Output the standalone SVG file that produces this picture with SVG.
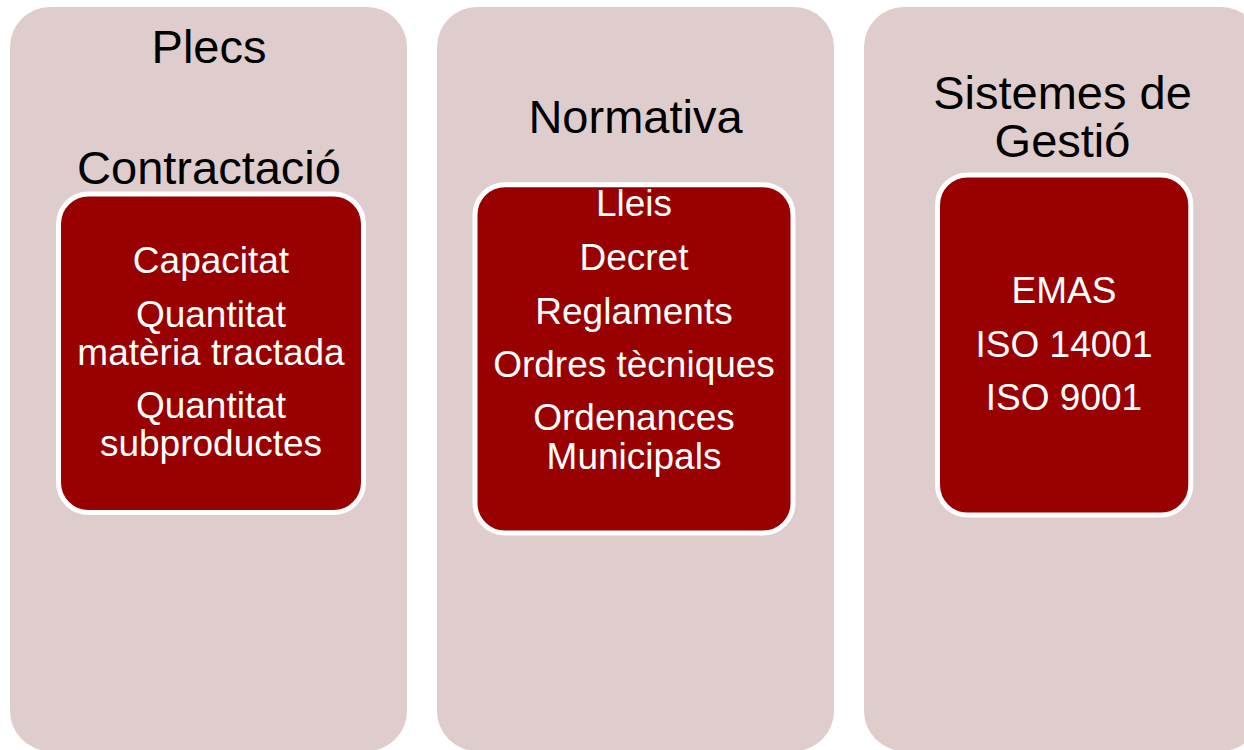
<svg xmlns="http://www.w3.org/2000/svg" width="1244" height="750" viewBox="0 0 1244 750">
<style>
.outer{fill:#dfcccc;}
.inner{fill:#990000;stroke:#ffffff;stroke-width:5;}
.title{font-family:"Liberation Sans",Arial,sans-serif;font-size:47px;fill:#000000;text-anchor:middle;}
.item{font-family:"Liberation Sans",Arial,sans-serif;font-size:37px;fill:#ffffff;text-anchor:middle;}
</style>
<rect width="1244" height="750" fill="#ffffff"/>
<g id="col1">
<rect class="outer" x="10" y="7" width="397" height="744" rx="40" ry="40"/>
<text class="title" x="209" y="63">Plecs</text>
<text class="title" x="209" y="184">Contractació</text>
<g id="col1-box">
<rect class="inner" x="58.5" y="194" width="305" height="318.5" rx="30" ry="30"/>
<text class="item" x="211" y="273">Capacitat</text>
<text class="item" x="211" y="327">Quantitat</text>
<text class="item" x="211" y="364.5">matèria tractada</text>
<text class="item" x="211" y="418">Quantitat</text>
<text class="item" x="211" y="456">subproductes</text>
</g>
</g>
<g id="col2">
<rect class="outer" x="437" y="7" width="397" height="744" rx="40" ry="40"/>
<text class="title" x="635.5" y="133">Normativa</text>
<g id="col2-box">
<rect class="inner" x="475" y="184.7" width="318" height="348.3" rx="30" ry="30"/>
<text class="item" x="634" y="216">Lleis</text>
<text class="item" x="634" y="270">Decret</text>
<text class="item" x="634" y="323.5">Reglaments</text>
<text class="item" x="634" y="377">Ordres tècniques</text>
<text class="item" x="634" y="430">Ordenances</text>
<text class="item" x="634" y="468.5">Municipals</text>
</g>
</g>
<g id="col3">
<rect class="outer" x="864" y="7" width="397" height="744" rx="40" ry="40"/>
<text class="title" x="1062.5" y="108.5">Sistemes de</text>
<text class="title" x="1062.5" y="156.5">Gestió</text>
<g id="col3-box">
<rect class="inner" x="937.5" y="175" width="253.3" height="340" rx="30" ry="30"/>
<text class="item" x="1064" y="303">EMAS</text>
<text class="item" x="1064" y="357">ISO 14001</text>
<text class="item" x="1064" y="410">ISO 9001</text>
</g>
</g>
<g id="connectors"></g>
</svg>
